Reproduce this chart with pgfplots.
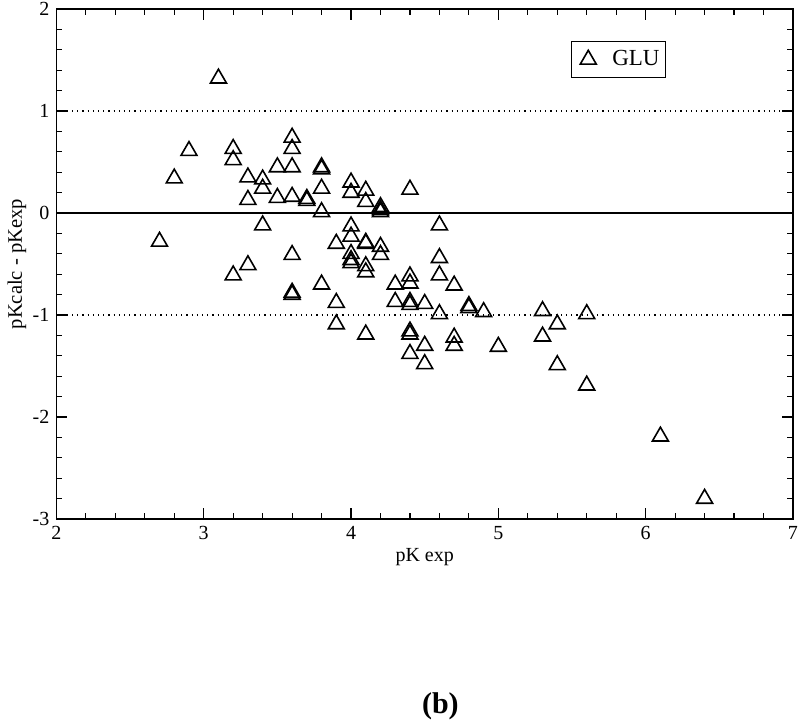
\documentclass[border=0pt]{standalone}
\usepackage{fontspec}
\setmainfont{Liberation Serif}
\usepackage{pgfplots}
\pgfplotsset{compat=1.18}
\begin{document}
\begin{tikzpicture}
\path[use as bounding box] (-28.2pt,-100.5pt) rectangle (371.8pt,259.5pt);
\begin{axis}[
  at={(0,0)}, anchor=south west,
  scale only axis, width=368.3pt, height=255pt,
  xmin=2, xmax=7, ymin=-3, ymax=2,
  xtick={2,...,7}, ytick={-3,...,2},
  minor x tick num=4, minor y tick num=4,
  tick align=inside,
  major tick length=5.5pt, minor tick length=3pt,
  axis line style={line width=0.6pt},
  every tick/.style={black, line width=0.6pt},
  /pgf/number format/assume math mode=true,
  ticklabel style={font=\fontsize{10}{12}\selectfont},
  xlabel={pK exp}, ylabel={pKcalc - pKexp},
  xlabel style={at={(axis description cs:0.5,0)}, anchor=center, yshift=-19pt, font=\fontsize{10}{12}\selectfont},
  ylabel style={at={(axis description cs:-0.0535,0.5)}, anchor=center, font=\fontsize{10.3}{12}\selectfont},
  legend style={at={(axis description cs:0.763,0.901)}, anchor=center, draw=black, line width=0.6pt,
    font=\fontsize{11.5}{13}\selectfont, inner xsep=0pt, inner ysep=2.5pt,
    nodes={inner xsep=3pt}},
  legend image code/.code={\path[draw=none, fill=none] (0pt,-1pt) rectangle (17.5pt,1pt);
    \draw[#1, only marks] plot coordinates {(8.5pt,0pt)};},
  clip=false,
]
\addplot[black, line width=0.6pt, forget plot] coordinates {(2,0) (7,0)};
\addplot[black, dotted, line width=0.6pt, forget plot] coordinates {(2,1) (7,1)};
\addplot[black, dotted, line width=0.6pt, forget plot] coordinates {(2,-1) (7,-1)};
\addplot[only marks, mark=triangle, mark size=4.6pt, mark options={draw=black, fill=none, line width=0.8pt}] table {
x y
3.1 1.32
2.9 0.61
2.8 0.34
2.7 -0.28
3.2 0.63
3.2 0.52
3.2 -0.61
3.3 0.35
3.3 0.13
3.3 -0.51
3.4 0.33
3.4 0.24
3.4 -0.12
3.5 0.45
3.5 0.15
3.6 0.74
3.6 0.63
3.6 0.45
3.6 0.16
3.6 -0.41
3.6 -0.78
3.6 -0.80
3.7 0.12
3.7 0.14
3.8 0.45
3.8 0.43
3.8 0.24
3.8 0.01
3.8 -0.70
3.9 -0.30
3.9 -0.88
3.9 -1.09
4.0 0.30
4.0 0.20
4.0 -0.13
4.0 -0.23
4.0 -0.40
4.0 -0.46
4.0 -0.49
4.1 0.22
4.1 0.11
4.1 -0.29
4.1 -0.30
4.1 -0.52
4.1 -0.58
4.1 -1.19
4.2 0.06
4.2 0.03
4.2 0.01
4.2 -0.33
4.2 -0.41
4.3 -0.70
4.3 -0.87
4.4 0.23
4.4 -0.62
4.4 -0.69
4.4 -0.87
4.4 -0.90
4.4 -1.16
4.4 -1.19
4.4 -1.38
4.5 -0.89
4.5 -1.30
4.5 -1.48
4.6 -0.12
4.6 -0.44
4.6 -0.61
4.6 -0.99
4.7 -0.71
4.7 -1.22
4.7 -1.30
4.8 -0.91
4.8 -0.93
4.9 -0.97
5.0 -1.31
5.3 -0.96
5.3 -1.21
5.4 -1.09
5.4 -1.49
5.6 -0.99
5.6 -1.69
6.1 -2.19
6.4 -2.80
};
\addlegendentry{GLU}
\end{axis}
\node[font=\bfseries\fontsize{15}{17}\selectfont] at (192pt,-93.5pt) {(b)};
\end{tikzpicture}
\end{document}
